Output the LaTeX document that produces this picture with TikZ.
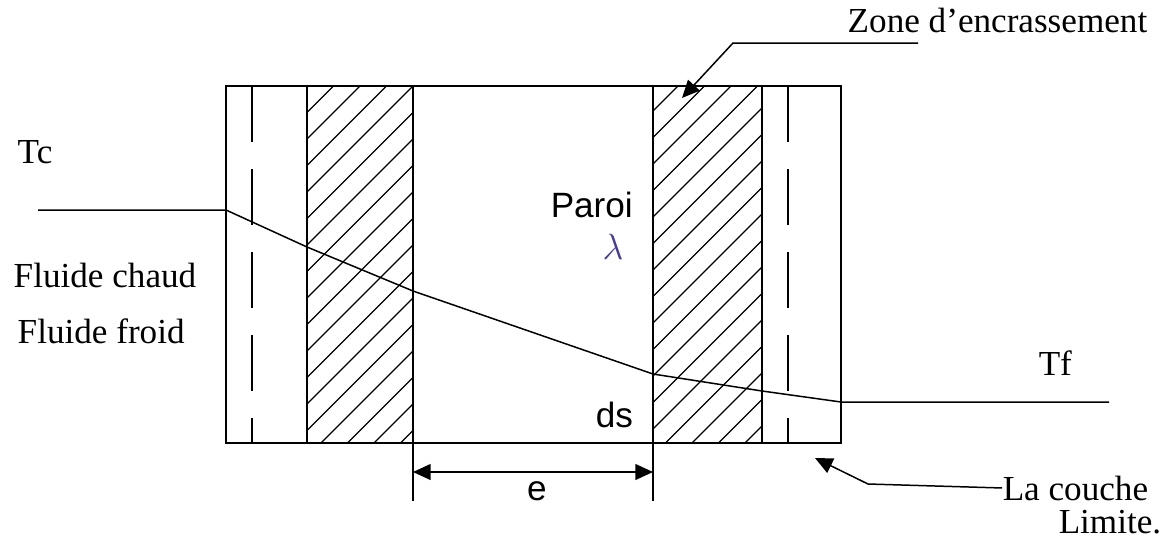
\documentclass[tikz,border=0pt]{standalone}
\usepackage{fontspec}
\setmainfont{Liberation Serif}
\setsansfont{Liberation Sans}
\usetikzlibrary{arrows.meta, positioning, calc}

\begin{document}
\begin{tikzpicture}[x=0.02cm, y=-0.02cm, line width=0.85pt,
    every node/.style={font=\fontsize{20}{24}\selectfont, inner sep=0pt},
    sanslbl/.style={font=\fontsize{20}{24}\selectfont\sffamily},
    boundary/.style={dash pattern=on 31.9pt off 15.4pt},
    pointer/.style={-{Triangle[length=10pt, width=9pt]}}]
    \useasboundingbox (0,0) rectangle (1167,545);

    % fouling zones (hatched)
    \begin{scope}
        \clip (307,86) rectangle (413,443) (653,86) rectangle (762,443);
        \foreach \k in {0,...,31}
            \draw[line width=0.7pt] ({393+26.5*\k-443},443) -- ({393+26.5*\k-86},86);
    \end{scope}

    % wall, fouling and boundary layers
    \draw (226,86) rectangle (841,443);
    \foreach \x in {307,762} \draw (\x,86) -- (\x,443);
    \foreach \x in {413,653} \draw (\x,86) -- (\x,501);
    \foreach \x in {252,788} \draw[boundary] (\x,86) -- (\x,443);

    % temperature profile
    \draw (38,210) -- (226,210) -- (307,247) -- (413,291) -- (653,374)
        -- (762,391) -- (841,402) -- (1109,402);

    % labels
    \node[anchor=base west] (tc) at (17,163) {Tc};
    \node[anchor=base west] (chaud) at (13,287) {Fluide chaud};
    \node[anchor=base west] (froid) at (17,343) {Fluide froid};
    \node[sanslbl, anchor=base west] (paroi) at (550,217) {Paroi};
    \node[text={rgb,255:red,70;green,60;blue,150}] (lambda) at (613,247) {$\lambda$};
    \node[sanslbl, anchor=base west] (ds) at (595,427) {ds};
    \node[anchor=base west] (tf) at (1038,375) {Tf};
    \node[sanslbl, anchor=base] (e) at (537,500) {e};
    \node[anchor=base east] (zone) at (1148,32) {Zone d’encrassement};
    \node[anchor=base west] (couche) at (1002,500) {La couche};
    \node[anchor=base west] (limite) at (1058,533) {Limite.};

    % thickness of the wall
    \coordinate (eleft) at (413,472);
    \coordinate (eright) at (653,472);
    \draw[{Triangle[length=10pt, width=9pt]}-{Triangle[length=10pt, width=9pt]}] (eleft) -- (eright);

    % leaders
    \coordinate (zonestart) at (918,43);
    \coordinate (zonebend) at (733,43);
    \coordinate (zonetip) at (682,98);
    \draw[pointer] (zonestart) -- (zonebend) -- (zonetip);
    \coordinate (couchebend) at (868,484);
    \coordinate (couchetip) at (815,458);
    \draw[pointer] (couche.west) -- (couchebend) -- (couchetip);
\end{tikzpicture}
\end{document}
